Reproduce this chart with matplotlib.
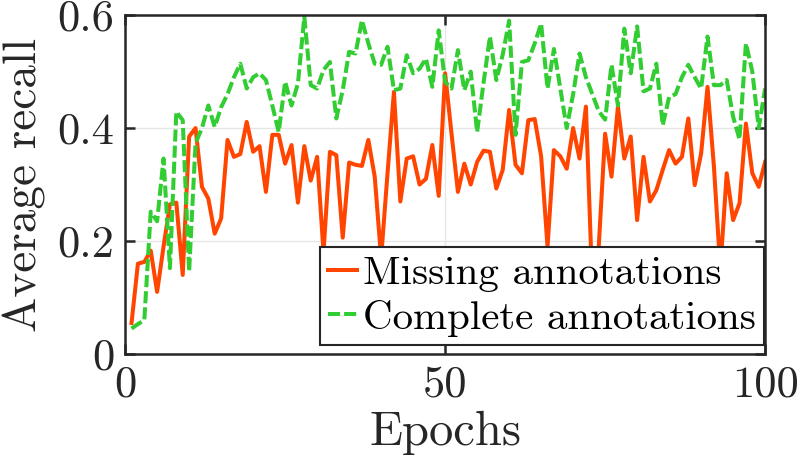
import numpy as np
import matplotlib
matplotlib.use("Agg")
import matplotlib.pyplot as plt

plt.rcParams['font.family'] = ['cmr10', 'DejaVu Serif']
plt.rcParams['axes.formatter.use_mathtext'] = True

epochs = np.arange(1, 101)

# Average recall, training with missing annotations
recall_missing = [
    0.055, 0.16, 0.163, 0.183, 0.11, 0.19, 0.265, 0.268, 0.14, 0.385,
    0.40, 0.296, 0.275, 0.213, 0.24, 0.379, 0.349, 0.354, 0.411, 0.358,
    0.368, 0.287, 0.388, 0.388, 0.337, 0.37, 0.268, 0.368, 0.307, 0.349,
    0.18, 0.358, 0.352, 0.206, 0.339, 0.335, 0.333, 0.379, 0.314, 0.17,
    0.32, 0.464, 0.27, 0.346, 0.35, 0.30, 0.31, 0.37, 0.28, 0.497,
    0.39, 0.287, 0.337, 0.30, 0.34, 0.36, 0.358, 0.293, 0.326, 0.432,
    0.335, 0.32, 0.414, 0.416, 0.35, 0.19, 0.361, 0.35, 0.328, 0.40,
    0.346, 0.438, 0.12, 0.19, 0.39, 0.314, 0.438, 0.346, 0.385, 0.237,
    0.349, 0.27, 0.29, 0.326, 0.361, 0.337, 0.349, 0.417, 0.299, 0.355,
    0.473, 0.332, 0.15, 0.32, 0.237, 0.267, 0.408, 0.32, 0.296, 0.34,
]

# Average recall, training with complete annotations
recall_complete = [
    0.045, 0.053, 0.06, 0.252, 0.235, 0.346, 0.152, 0.429, 0.414, 0.146,
    0.373, 0.40, 0.44, 0.402, 0.437, 0.46, 0.49, 0.514, 0.47, 0.49,
    0.497, 0.485, 0.44, 0.393, 0.482, 0.44, 0.479, 0.597, 0.476, 0.47,
    0.503, 0.517, 0.417, 0.467, 0.535, 0.532, 0.591, 0.55, 0.514, 0.512,
    0.544, 0.467, 0.47, 0.529, 0.497, 0.505, 0.523, 0.473, 0.573, 0.482,
    0.47, 0.538, 0.467, 0.50, 0.393, 0.48, 0.562, 0.485, 0.53, 0.59,
    0.388, 0.517, 0.52, 0.55, 0.585, 0.47, 0.54, 0.47, 0.40, 0.46,
    0.532, 0.49, 0.46, 0.43, 0.415, 0.512, 0.44, 0.576, 0.497, 0.58,
    0.465, 0.47, 0.514, 0.405, 0.455, 0.46, 0.49, 0.512, 0.49, 0.47,
    0.562, 0.476, 0.476, 0.485, 0.42, 0.38, 0.55, 0.50, 0.40, 0.47,
]

x_ticks = [0, 50, 100]
y_ticks = [0, 0.2, 0.4, 0.6]
y_ticklabels = ['0', '0.2', '0.4', '0.6']

fig = plt.figure(figsize=(7.97, 4.72), dpi=100)
ax = fig.add_axes([0.157, 0.25, 0.803, 0.718])

ax.plot(epochs, recall_missing, color='#ff4500', lw=2.9, label='Missing annotations')
ax.plot(epochs, recall_complete, color='#32cd32', lw=2.9, dashes=(3.0, 1.0),
        label='Complete annotations')

ax.set_xlim(0, 100)
ax.set_ylim(0, 0.6)
ax.set_xticks(x_ticks)
ax.set_xticklabels([str(t) for t in x_ticks])
ax.set_yticks(y_ticks)
ax.set_yticklabels(y_ticklabels)
ax.grid(True, color='#e6e6e6', lw=1.0)
ax.set_axisbelow(True)

for s in ax.spines.values():
    s.set_color('#262626')
    s.set_linewidth(1.8)
ax.tick_params(direction='in', length=7, width=1.8, colors='#262626',
               labelsize=32, labelcolor='#262626', top=True, right=True, pad=8)

ax.set_xlabel('Epochs', fontsize=35, color='#262626', labelpad=4)
ax.set_ylabel('Average recall', fontsize=34, color='#262626', labelpad=8)

leg = ax.legend(loc='lower right', bbox_to_anchor=(0.998, 0.027), borderaxespad=0,
                fontsize=29.5, frameon=True, fancybox=False, framealpha=1,
                edgecolor='#262626', handlelength=0.7, handletextpad=0.15,
                borderpad=0.2, labelspacing=0.18)
leg.get_frame().set_linewidth(1.5)
leg.set_zorder(5)

fig.savefig('out.png', dpi=100)
